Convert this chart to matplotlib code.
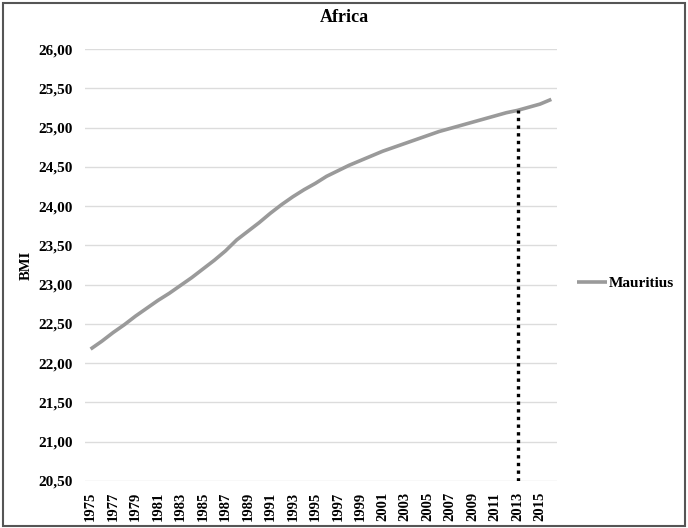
import numpy as np
import matplotlib
matplotlib.use("Agg")
import matplotlib.pyplot as plt
from matplotlib.patches import Rectangle

years = list(range(1975, 2017))
bmi = [22.18, 22.28, 22.39, 22.49, 22.60, 22.70, 22.80, 22.89, 22.99, 23.09,
       23.20, 23.31, 23.43, 23.57, 23.68, 23.79, 23.91, 24.02, 24.12, 24.21,
       24.29, 24.38, 24.45, 24.52, 24.58, 24.64, 24.70, 24.75, 24.80, 24.85,
       24.90, 24.95, 24.99, 25.03, 25.07, 25.11, 25.15, 25.19, 25.22, 25.26,
       25.30, 25.36]
marker_year = 2013
yticks = np.arange(20.5, 26.01, 0.5)

plt.rcParams['font.family'] = ['Liberation Serif', 'DejaVu Serif']
plt.rcParams['font.weight'] = 'bold'

fig = plt.figure(figsize=(6.88, 5.28), dpi=100)
ax = fig.add_axes([0.1235, 0.089, 0.686, 0.818])

x = np.arange(len(years))
ax.plot(x, bmi, color='#9a9a9a', lw=2.6, label='Mauritius', solid_capstyle='butt')
i13 = years.index(marker_year)
ax.plot([x[i13], x[i13]], [20.5, bmi[i13]], color='black', lw=2.4,
        linestyle=(0, (1, 1.3)))

ax.set_xlim(-0.5, len(years) - 0.5)
ax.set_ylim(20.5, 26.0)
ax.set_yticks(yticks)
ax.set_yticklabels([f"{v:.2f}".replace('.', ',') for v in yticks],
                   fontsize=11, fontweight='bold')
ax.set_xticks(x[::2])
ax.set_xticklabels([str(y) for y in years[::2]], rotation=90,
                   fontsize=10.5, fontweight='bold')
ax.tick_params(axis='both', length=0)
ax.tick_params(axis='y', pad=9)
ax.tick_params(axis='x', pad=8)
ax.yaxis.grid(True, color='#dcdcdc', lw=1.0)
ax.set_axisbelow(True)
for s in ax.spines.values():
    s.set_visible(False)

ax.set_ylabel('BMI', fontsize=10.5, fontweight='bold', labelpad=4)
fig.text(0.5, 0.967, 'Africa', ha='center', va='center', fontsize=13,
         fontweight='bold')

leg = ax.legend(loc='center left', bbox_to_anchor=(0.818, 0.464),
                bbox_transform=fig.transFigure, frameon=False,
                prop={'size': 11, 'weight': 'bold'},
                handlelength=2.0, handletextpad=0.1)

fig.patches.append(Rectangle((3 / 688, 2 / 528), 682 / 688, 523 / 528,
                             transform=fig.transFigure, fill=False,
                             edgecolor='#555555', lw=1.5))

plt.savefig('out.png', dpi=100)
